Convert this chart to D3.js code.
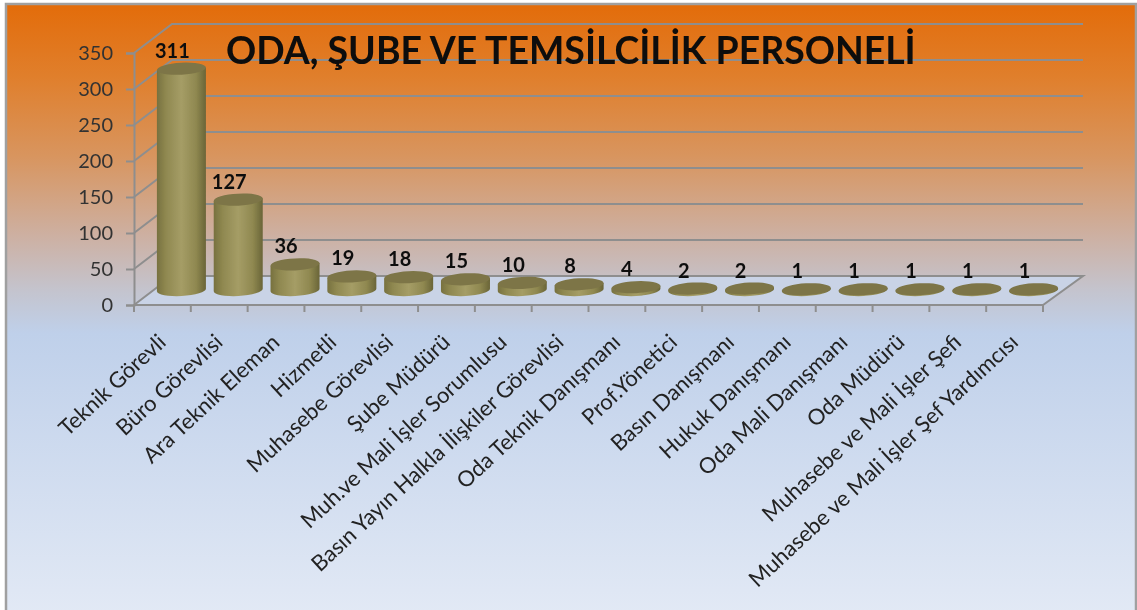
<!DOCTYPE html>
<html>
<head>
<meta charset="utf-8">
<script src="https://cdn.jsdelivr.net/npm/d3@7"></script>
<style>
html, body { margin: 0; padding: 0; background: #fff; overflow: hidden; }
svg { display: block; }
text { font-family: Lato, "Open Sans", sans-serif; }
</style>
</head>
<body>
<svg id="svgHolder"></svg>
<script>
let categories = ['Teknik Görevli', 'Büro Görevlisi', 'Ara Teknik Eleman', 'Hizmetli', 'Muhasebe Görevlisi',
    'Şube Müdürü', 'Muh.ve Mali İşler Sorumlusu', 'Basın Yayın Halkla İlişkiler Görevlisi', 'Oda Teknik Danışmanı',
    'Prof.Yönetici', 'Basın Danışmanı', 'Hukuk Danışmanı', 'Oda Mali Danışmanı', 'Oda Müdürü',
    'Muhasebe ve Mali İşler Şefi', 'Muhasebe ve Mali İşler Şef Yardımcısı'];
let values = [311, 127, 36, 19, 18, 15, 10, 8, 4, 2, 2, 1, 1, 1, 1, 1];
let yTicks = [0, 50, 100, 150, 200, 250, 300, 350];
let titleText = 'ODA, ŞUBE VE TEMSİLCİLİK PERSONELİ';

let chartWidth = 1137;
let chartHeight = 610;

// 3d box offset of the back wall
let depthX = 38;
let depthY = 29;

let svg = d3.select('#svgHolder').attr('width', chartWidth).attr('height', chartHeight);

let xScale = d3.scaleBand().domain(categories).range([134, 1043]);
let yScale = d3.scaleLinear().domain([0, 350]).range([305, 53]);
let heightScale = d3.scaleLinear().domain([0, 350]).range([0, 249]);

let defs = svg.append('defs');

let bg = defs.append('linearGradient').attr('id', 'bg')
    .attr('x1', 0).attr('y1', 0).attr('x2', 0).attr('y2', 1);
[[0, '#e36c0a'], [0.12, '#e07f2c'], [0.25, '#d8955f'], [0.38, '#cdb0a2'], [0.47, '#c4c4ce'],
 [0.54, '#bfd0ea'], [1, '#e2e9f5']].forEach((s) => {
    bg.append('stop').attr('offset', s[0]).attr('stop-color', s[1]);
});

let cyl = defs.append('linearGradient').attr('id', 'cyl')
    .attr('x1', 0).attr('y1', 0).attr('x2', 1).attr('y2', 0);
[[0, '#77713f'], [0.18, '#8f8850'], [0.5, '#a59d66'], [0.8, '#8f8850'], [1, '#6a6538']].forEach((s) => {
    cyl.append('stop').attr('offset', s[0]).attr('stop-color', s[1]);
});

defs.append('filter').attr('id', 'soft')
    .append('feGaussianBlur').attr('stdDeviation', 0.55);

// background panel with grey border
svg.append('rect')
    .attr('x', 6).attr('y', 4)
    .attr('width', chartWidth - 7).attr('height', chartHeight)
    .attr('fill', 'url(#bg)')
    .attr('stroke', '#a0a0a0')
    .attr('stroke-width', 2.5);

let chart = svg.append('g').attr('filter', 'url(#soft)');

let x0 = xScale.range()[0];
let x1 = xScale.range()[1];
let y0 = yScale(0);
let lineColor = '#8e8e8e';

// floor
chart.append('path')
    .attr('d', d3.line()([[x0, y0], [x0 + depthX, y0 - depthY], [x1 + depthX + 2, y0 - depthY], [x1, y0]]) + 'Z')
    .attr('fill', '#c9d3e6')
    .attr('stroke', lineColor)
    .attr('stroke-width', 2);

// back wall grid and side wall lines
chart.selectAll('.grid')
    .data(yTicks.slice(1))
    .enter()
    .append('path')
    .attr('class', 'grid')
    .attr('fill', 'none')
    .attr('stroke', lineColor)
    .attr('stroke-width', 2)
    .attr('d', (d) => d3.line()([[x0, yScale(d)], [x0 + depthX, yScale(d) - depthY], [x1 + depthX + 2, yScale(d) - depthY]]));

// axes
let yAxis = d3.axisLeft(yScale).tickValues(yTicks).tickSize(8).tickPadding(13);
let yG = chart.append('g').attr('transform', 'translate(' + x0 + ',0)').call(yAxis);
yG.selectAll('line').attr('stroke', lineColor).attr('stroke-width', 2);
yG.select('.domain').attr('stroke', lineColor).attr('stroke-width', 2);
yG.selectAll('text').attr('font-size', 20).attr('fill', '#333').attr('font-family', 'Lato');

let tickPositions = categories.map((c) => xScale(c)).concat([x1]);
chart.selectAll('.xtick')
    .data(tickPositions)
    .enter()
    .append('line')
    .attr('class', 'xtick')
    .attr('x1', (d) => d).attr('x2', (d) => d)
    .attr('y1', y0).attr('y2', y0 + 7)
    .attr('stroke', lineColor)
    .attr('stroke-width', 2);

// cylinders
let rx = 24.5;
let ry = 6;
let tilt = -3;
let lift = rx * Math.sin(3 * Math.PI / 180);

function barX(i) {
    return xScale(categories[i]) + xScale.bandwidth() / 2 + depthX / 2;
}
function baseY() {
    return y0 - 15;
}
function topY(v) {
    return baseY() - heightScale(v);
}

let bars = chart.selectAll('.bar')
    .data(values)
    .enter()
    .append('g')
    .attr('class', 'bar');

bars.append('path')
    .attr('fill', 'url(#cyl)')
    .attr('d', (d, i) => {
        let c = barX(i);
        return 'M' + (c - rx) + ',' + (topY(d) + lift) +
            'L' + (c - rx) + ',' + (baseY() + lift) +
            'A' + rx + ',' + ry + ' ' + tilt + ' 0 0 ' + (c + rx) + ',' + (baseY() - lift) +
            'L' + (c + rx) + ',' + (topY(d) - lift) + 'Z';
    });

bars.append('ellipse')
    .attr('cx', (d, i) => barX(i))
    .attr('cy', (d) => topY(d))
    .attr('rx', rx)
    .attr('ry', ry)
    .attr('fill', '#7d7547')
    .attr('transform', (d, i) => 'rotate(' + tilt + ' ' + barX(i) + ' ' + topY(d) + ')');

// value labels
chart.selectAll('.value')
    .data(values)
    .enter()
    .append('text')
    .attr('class', 'value')
    .attr('x', (d, i) => barX(i) - 9)
    .attr('y', (d) => topY(d) - 11)
    .attr('text-anchor', 'middle')
    .attr('font-size', 20)
    .attr('font-weight', 700)
    .attr('fill', '#111')
    .text((d) => d);

// category labels
chart.selectAll('.cat')
    .data(categories)
    .enter()
    .append('text')
    .attr('class', 'cat')
    .attr('text-anchor', 'end')
    .attr('font-size', 22)
    .attr('fill', '#222')
    .attr('transform', (d) => 'translate(' + (xScale(d) + xScale.bandwidth() / 2 + 5) + ',' + (y0 + 39) + ') rotate(-43)')
    .text((d) => d);

// title
chart.append('text')
    .attr('x', 226)
    .attr('y', 64)
    .attr('font-size', 37.4)
    .attr('font-weight', 700)
    .attr('fill', '#0a0a0a')
    .text(titleText);
</script>
</body>
</html>
